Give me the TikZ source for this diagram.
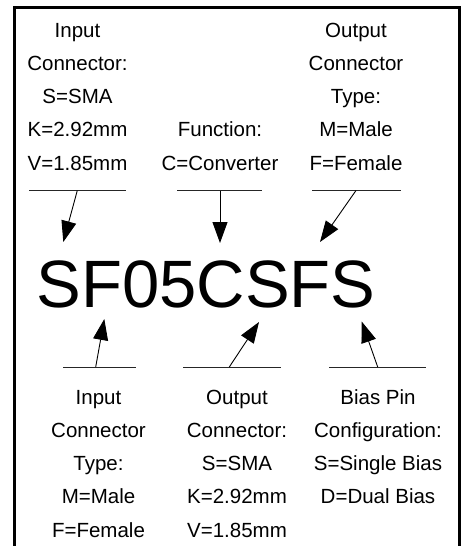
\documentclass[tikz,border=0pt]{standalone}
\usepackage{fontspec}
\setmainfont{Liberation Sans}
\usetikzlibrary{arrows.meta}
\begin{document}
\begin{tikzpicture}[x=1pt,y=-1pt,
  lbl/.style={anchor=base,inner sep=0pt,font=\fontsize{20.5}{24}\selectfont},
  big/.style={anchor=base,inner sep=0pt,font=\fontsize{67}{70}\selectfont},
  rule/.style={draw=black!85,line width=0.9pt},
  ptr/.style={draw=black,line width=0.9pt,-{Triangle[length=21pt,width=15pt]}},
  frame/.style={draw=black,line width=3pt}]
\useasboundingbox (0,0) rectangle (461,546);
\draw[frame] (14,546) -- (14,7.5) -- (459.5,7.5) -- (459.5,546);
% top blocks
\foreach \t [count=\i] in {Input,Connector:,S=SMA,K=2.92mm,V=1.85mm}
  \node[lbl] (tl\i) at (77.5,{37.3+33.2*(\i-1)}) {\t};
\foreach \t [count=\i] in {Function:,C=Converter}
  \node[lbl] (tm\i) at (220,{136.9+33.2*(\i-1)}) {\t};
\foreach \t [count=\i] in {Output,Connector,Type:,M=Male,F=Female}
  \node[lbl] (tr\i) at (356,{37.3+33.2*(\i-1)}) {\t};
% bottom blocks
\foreach \t [count=\i] in {Input,Connector,Type:,M=Male,F=Female}
  \node[lbl] (bl\i) at (98.5,{404.3+33.2*(\i-1)}) {\t};
\foreach \t [count=\i] in {Output,Connector:,S=SMA,K=2.92mm,V=1.85mm}
  \node[lbl] (bm\i) at (237,{404.3+33.2*(\i-1)}) {\t};
\foreach \t [count=\i] in {Bias Pin,Configuration:,S=Single Bias,D=Dual Bias}
  \node[lbl] (br\i) at (378,{404.3+33.2*(\i-1)}) {\t};
% model number
\node[big] (code) at (206,307) {SF05CSFS};
% rules
\coordinate (tlA) at (29,190.5);  \coordinate (tlB) at (126,190.5);
\coordinate (tmA) at (177,190.5); \coordinate (tmB) at (262,190.5);
\coordinate (trA) at (312,190.5); \coordinate (trB) at (401,190.5);
\coordinate (blA) at (63,367);    \coordinate (blB) at (136,367);
\coordinate (bmA) at (183,367);   \coordinate (bmB) at (281,367);
\coordinate (brA) at (329,367);   \coordinate (brB) at (426,367);
\draw[rule] (tlA) -- (tlB);
\draw[rule] (tmA) -- (tmB);
\draw[rule] (trA) -- (trB);
\draw[rule] (blA) -- (blB);
\draw[rule] (bmA) -- (bmB);
\draw[rule] (brA) -- (brB);
% arrow ends
\coordinate (s1) at (77.3,190.5);  \coordinate (e1) at (63.3,242);
\coordinate (s2) at (220,190.5);   \coordinate (e2) at (220,243);
\coordinate (s3) at (356,190.5);   \coordinate (e3) at (320,242);
\coordinate (s4) at (95.7,367);    \coordinate (e4) at (104.3,319);
\coordinate (s5) at (229.3,367);   \coordinate (e5) at (259,322);
\coordinate (s6) at (377.7,367);   \coordinate (e6) at (361.7,321.5);
\foreach \k in {1,...,6}
  \draw[ptr] (s\k) -- (e\k);
\end{tikzpicture}
\end{document}
